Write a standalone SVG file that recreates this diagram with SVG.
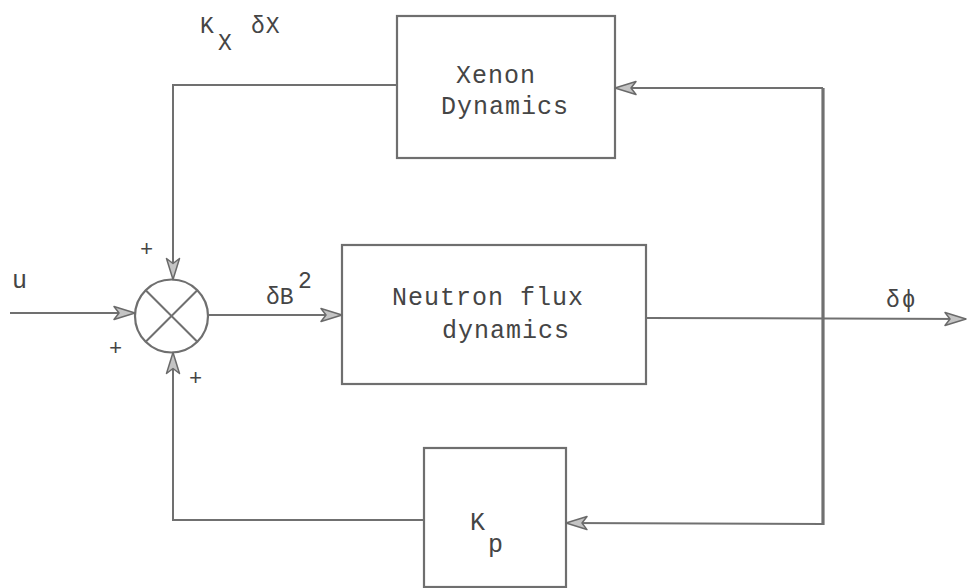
<svg xmlns="http://www.w3.org/2000/svg" width="968" height="588" viewBox="0 0 968 588">
<style>
.box{fill:none;stroke:#6f6f6f;stroke-width:2.2}
.ln{fill:none;stroke:#707070;stroke-width:2}
.thick{stroke-width:3.2}
.t{font-family:"Liberation Mono","DejaVu Sans Mono",monospace;fill:#454545;font-size:25px;letter-spacing:1px}
.s{font-family:"Liberation Mono","DejaVu Sans Mono",monospace;fill:#454545}
</style>
<defs>
<marker id="ah" viewBox="-24 -8 26 16" refX="0" refY="0" markerWidth="26" markerHeight="16" orient="auto" markerUnits="userSpaceOnUse">
<path d="M0,0 L-21,-6.5 L-16,0 L-21,6.5 Z" fill="#c4c4c4" stroke="#6a6a6a" stroke-width="1.5" stroke-linejoin="round"/>
</marker>
</defs>
<rect width="968" height="588" fill="#ffffff"/>
<g id="sum">
<circle cx="171.5" cy="316" r="36.5" class="box"/>
<line x1="145.7" y1="290.2" x2="197.3" y2="341.8" class="ln"/>
<line x1="197.3" y1="290.2" x2="145.7" y2="341.8" class="ln"/>
</g>
<g id="xenon">
<rect x="397" y="16" width="218" height="142" class="box"/>
<text class="t" x="456" y="83">Xenon</text>
<text class="t" x="441" y="114">Dynamics</text>
</g>
<g id="neutron">
<rect x="342" y="245" width="304" height="139" class="box"/>
<text class="t" x="392" y="305">Neutron flux</text>
<text class="t" x="442" y="338">dynamics</text>
</g>
<g id="kp">
<rect x="424" y="448" width="142" height="139" class="box"/>
<text class="s" x="470" y="530" style="font-size:25px">K</text>
<text class="s" x="488" y="552" style="font-size:25px">p</text>
</g>
<g id="connectors">
<line x1="10" y1="313" x2="135" y2="313" class="ln" marker-end="url(#ah)"/>
<line x1="208" y1="315" x2="342" y2="315" class="ln" marker-end="url(#ah)"/>
<line x1="646" y1="318" x2="966" y2="319" class="ln" marker-end="url(#ah)"/>
<polyline points="397,85 173,85 173,279.5" class="ln" marker-end="url(#ah)"/>
<polyline points="424,520 173,520 173,352.5" class="ln" marker-end="url(#ah)"/>
<line x1="823" y1="88" x2="823" y2="525" class="ln thick"/>
<line x1="823" y1="88" x2="615" y2="88" class="ln" marker-end="url(#ah)"/>
<line x1="823" y1="524" x2="566" y2="523" class="ln" marker-end="url(#ah)"/>
</g>
<g id="labels">
<text class="s" x="12" y="288" style="font-size:25px">u</text>
<text class="s" x="140" y="256" style="font-size:22px">+</text>
<text class="s" x="109" y="355" style="font-size:22px">+</text>
<text class="s" x="189" y="385" style="font-size:22px">+</text>
<text class="s" x="266" y="304" style="font-size:23px">δB</text>
<text class="s" x="298" y="288" style="font-size:23px">2</text>
<text class="s" x="200" y="33" style="font-size:23px">K</text>
<text class="s" x="218" y="50" style="font-size:23px">X</text>
<text class="s" x="251" y="33" style="font-size:23px;letter-spacing:1px">δX</text>
<text class="s" x="886" y="307" style="font-size:23px;letter-spacing:2px">δϕ</text>
</g>
</svg>
